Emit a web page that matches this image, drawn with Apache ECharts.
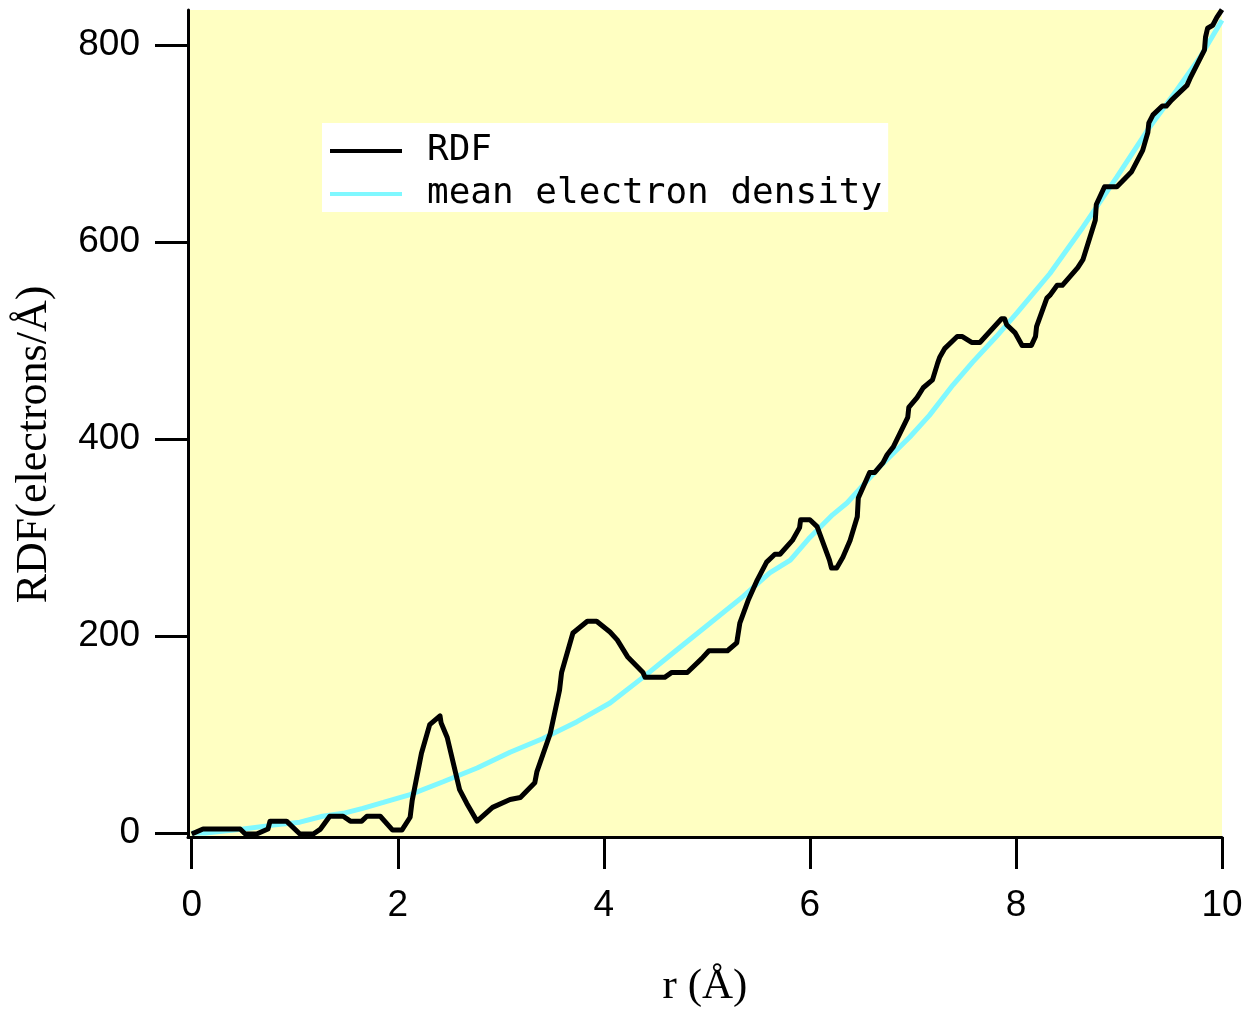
<!DOCTYPE html>
<html>
<head>
<meta charset="utf-8">
<script src="https://cdn.jsdelivr.net/npm/echarts@6/dist/echarts.min.js"></script>
<style>
html,body{margin:0;padding:0;background:#fff;}
#chart{width:1246px;height:1013px;}
</style>
</head>
<body>
<div id="chart"></div>
<script>
// ---- data ----
var xTicks = [0, 2, 4, 6, 8, 10];
var yTicks = [0, 200, 400, 600, 800];

var rdfX = [0.00, 0.11, 0.47, 0.52, 0.63, 0.74, 0.76, 0.92, 1.05, 1.18, 1.25, 1.34, 1.47, 1.54, 1.65, 1.70, 1.83, 1.95, 2.04, 2.12,
  2.14, 2.23, 2.31, 2.41, 2.42, 2.48, 2.60, 2.67, 2.77, 2.92, 3.09, 3.19, 3.33, 3.35, 3.48, 3.57, 3.59, 3.70, 3.84, 3.93,
  4.06, 4.13, 4.23, 4.38, 4.40, 4.59, 4.66, 4.81, 4.95, 5.02, 5.20, 5.29, 5.32, 5.40, 5.49, 5.58, 5.66, 5.71, 5.83, 5.90,
  5.91, 6.00, 6.07, 6.19, 6.21, 6.26, 6.32, 6.39, 6.46, 6.47, 6.58, 6.63, 6.71, 6.75, 6.81, 6.95, 6.96, 7.04, 7.10, 7.19,
  7.24, 7.26, 7.31, 7.43, 7.48, 7.57, 7.65, 7.86, 7.89, 7.91, 7.99, 8.06, 8.15, 8.19, 8.20, 8.30, 8.33, 8.40, 8.45, 8.60,
  8.65, 8.77, 8.78, 8.86, 8.98, 9.12, 9.23, 9.28, 9.29, 9.33, 9.42, 9.46, 9.51, 9.54, 9.66, 9.69, 9.83, 9.84, 9.86, 9.91,
  9.95, 10.00];
var rdfY = [-1, 4, 4, -1, -1, 4, 12, 12, -1, -1, 4, 17, 17, 12, 12, 17, 17, 3, 3, 16,
  33, 81, 110, 119, 112, 97, 44, 30, 12, 26, 34, 36, 51, 62, 101, 145, 163, 203, 215, 215,
  204, 196, 179, 163, 158, 158, 163, 163, 177, 185, 185, 193, 213, 236, 257, 275, 283, 283, 297, 310,
  318, 318, 311, 277, 269, 269, 280, 297, 321, 340, 366, 366, 376, 384, 392, 422, 432, 442, 452, 460,
  477, 483, 492, 504, 504, 498, 498, 522, 522, 516, 508, 495, 495, 504, 514, 543, 546, 556, 556, 574,
  582, 622, 638, 656, 656, 671, 693, 711, 721, 729, 738, 738, 744, 747, 759, 766, 795, 808, 817, 820,
  828, 836];

var densityX = [0.00, 0.13, 0.50, 0.79, 1.05, 1.27, 1.47, 1.66, 1.86, 2.12, 2.44, 2.77, 3.09, 3.41, 3.74, 4.06, 4.38, 4.71, 5.03, 5.35,
  5.61, 5.81, 6.00, 6.22, 6.36, 6.68, 6.97, 7.16, 7.39, 7.58, 7.81, 8.01, 8.33, 8.65, 8.98, 9.30, 9.56, 9.79, 10.00];
var densityY = [0, 0, 4, 8, 11, 17, 20, 25, 31, 39, 52, 66, 82, 96, 113, 132, 158, 186, 213, 240,
  264, 277, 300, 323, 335, 372, 402, 424, 455, 478, 504, 528, 568, 615, 666, 717, 754, 788, 825];

function zip(xs, ys) { return xs.map(function (x, i) { return [x, ys[i]]; }); }

var chart = echarts.init(document.getElementById('chart'), null, {renderer: 'canvas'});
chart.setOption({
  backgroundColor: '#ffffff',
  animation: false,
  grid: {left: 188, top: 10, width: 1034, height: 827, show: true, backgroundColor: '#ffffc2', borderWidth: 0},
  legend: {
    orient: 'vertical', left: 322, top: 123, width: 566,
    backgroundColor: '#ffffff', padding: [10, 6, 0, 8],
    icon: 'rect', itemWidth: 72, itemHeight: 4, itemGap: 7,
    textStyle: {fontFamily: 'DejaVu Sans Mono', fontSize: 36, color: '#000', lineHeight: 36, padding: [0, 0, 0, 20]},
    data: ['RDF', 'mean electron density']
  },
  xAxis: {
    type: 'value', min: -0.036, max: 10,
    name: 'r (Å)', nameLocation: 'middle', nameGap: 128,
    nameTextStyle: {fontFamily: 'Liberation Serif', fontSize: 43, color: '#000'},
    axisLine: {onZero: false, lineStyle: {color: '#000', width: 3}},
    axisTick: {show: true, inside: false, length: 32, lineStyle: {color: '#000', width: 3}, customValues: xTicks},
    axisLabel: {customValues: xTicks, margin: 50, fontFamily: 'Liberation Sans', fontSize: 37, color: '#000'},
    splitLine: {show: false}
  },
  yAxis: {
    type: 'value', min: -4.06, max: 835.5,
    name: 'RDF(electrons/Å)', nameLocation: 'middle', nameGap: 132,
    nameTextStyle: {fontFamily: 'Liberation Serif', fontSize: 44, color: '#000', padding: [0, 42, 0, 0]},
    axisLine: {onZero: false, lineStyle: {color: '#000', width: 3}},
    axisTick: {show: true, inside: false, length: 33, lineStyle: {color: '#000', width: 3}, customValues: yTicks},
    axisLabel: {customValues: yTicks, margin: 48, fontFamily: 'Liberation Sans', fontSize: 37, color: '#000'},
    splitLine: {show: false}
  },
  series: [
    {
      name: 'mean electron density', type: 'line', data: zip(densityX, densityY),
      symbol: 'none', lineStyle: {color: '#7ff8ff', width: 5}, itemStyle: {color: '#7ff8ff'}, z: 2
    },
    {
      name: 'RDF', type: 'line', data: zip(rdfX, rdfY),
      symbol: 'none', lineStyle: {color: '#000000', width: 5, join: 'round'}, itemStyle: {color: '#000000'}, z: 3
    }
  ]
});
</script>
</body>
</html>
